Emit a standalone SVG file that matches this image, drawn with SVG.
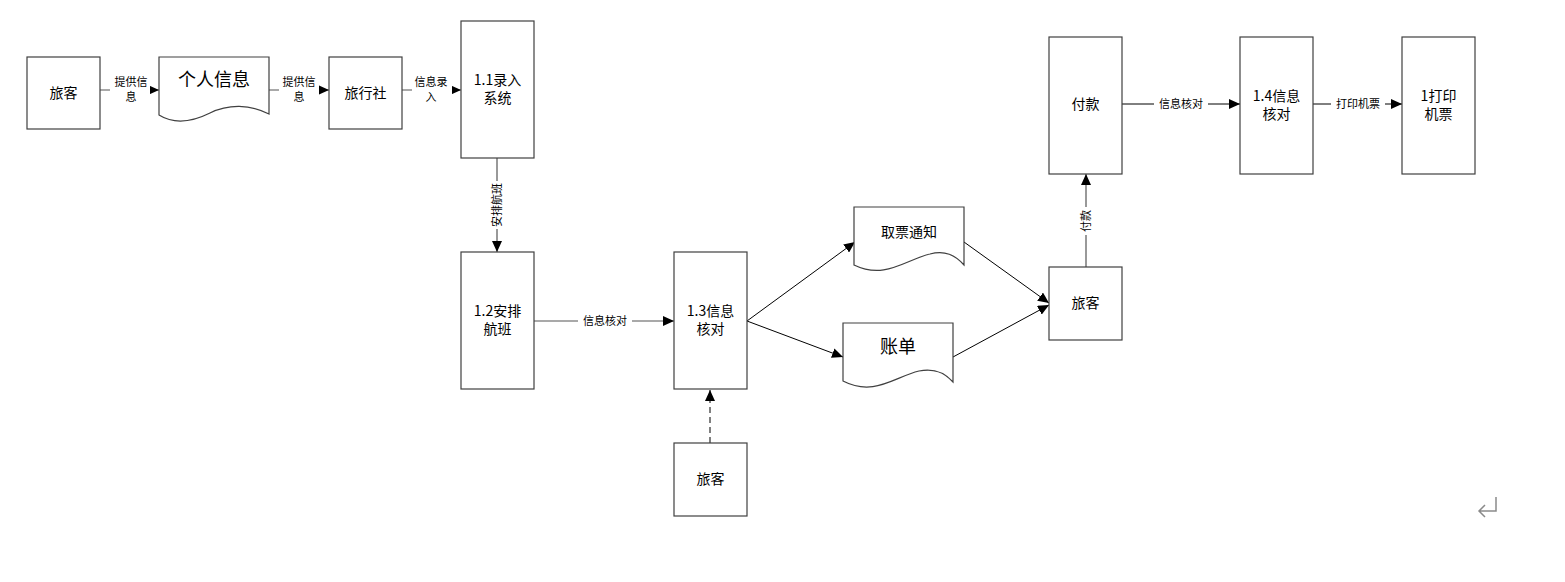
<svg xmlns="http://www.w3.org/2000/svg" width="1565" height="582" viewBox="0 0 1565 582">
<defs>
<marker id="arr" markerUnits="userSpaceOnUse" markerWidth="12" markerHeight="10" refX="11" refY="5" orient="auto">
<path d="M0,0 L11,5 L0,10 Z" fill="#000"/>
</marker>
</defs>
<style>
.box{fill:#fff;stroke:#404040;stroke-width:1.2}
.doc{fill:#fff;stroke:#404040;stroke-width:1.2}
.t{font-family:"Noto Sans CJK SC","Liberation Sans",sans-serif;font-size:14px;fill:#000;text-anchor:middle}
.tb{font-family:"Noto Sans CJK SC","Liberation Sans",sans-serif;font-size:18px;fill:#000;text-anchor:middle}
.lb{font-family:"Noto Sans CJK SC","Liberation Sans",sans-serif;font-size:11px;fill:#000;text-anchor:middle}
.c{fill:none;stroke:#555;stroke-width:1.2}
.ck{fill:none;stroke:#000;stroke-width:1}
.bg{fill:#fff}
</style>
<rect width="1565" height="582" fill="#fff"/>
<g id="connectors">
<line class="c" x1="100" y1="90" x2="159" y2="90" marker-end="url(#arr)"/>
<rect class="bg" x="110" y="74" width="40" height="30"/>
<text class="lb" x="131" y="86">提供信</text><text class="lb" x="131" y="101">息</text>
<line class="c" x1="269" y1="90" x2="329" y2="90" marker-end="url(#arr)"/>
<rect class="bg" x="279" y="74" width="40" height="30"/>
<text class="lb" x="299" y="86">提供信</text><text class="lb" x="299" y="101">息</text>
<line class="c" x1="402" y1="90" x2="461" y2="90" marker-end="url(#arr)"/>
<rect class="bg" x="412" y="74" width="40" height="30"/>
<text class="lb" x="431" y="86">信息录</text><text class="lb" x="431" y="101">入</text>
<line class="c" x1="497" y1="158" x2="497" y2="252" marker-end="url(#arr)"/>
<rect class="bg" x="490" y="181" width="14" height="48"/>
<text class="lb" transform="translate(501,205) rotate(-90)">安排航班</text>
<line class="c" x1="534" y1="321" x2="674" y2="321" marker-end="url(#arr)"/>
<rect class="bg" x="578" y="313" width="54" height="15"/>
<text class="lb" x="605" y="325">信息核对</text>
<line class="ck" x1="710" y1="443" x2="710" y2="390" stroke-dasharray="6,4" marker-end="url(#arr)"/>
<line class="ck" x1="747" y1="321" x2="855" y2="242" marker-end="url(#arr)"/>
<line class="ck" x1="747" y1="321" x2="843" y2="357" marker-end="url(#arr)"/>
<line class="ck" x1="964" y1="242" x2="1049" y2="303" marker-end="url(#arr)"/>
<line class="ck" x1="953" y1="357" x2="1049" y2="305" marker-end="url(#arr)"/>
<line class="c" x1="1086" y1="267" x2="1086" y2="174" marker-end="url(#arr)"/>
<rect class="bg" x="1079" y="207" width="14" height="28"/>
<text class="lb" transform="translate(1090,221) rotate(-90)">付款</text>
<line class="ck" x1="1122" y1="104" x2="1240" y2="104" marker-end="url(#arr)"/>
<rect class="bg" x="1154" y="96" width="54" height="15"/>
<text class="lb" x="1181" y="108">信息核对</text>
<line class="ck" x1="1313" y1="104" x2="1402" y2="104" marker-end="url(#arr)"/>
<rect class="bg" x="1331" y="96" width="54" height="15"/>
<text class="lb" x="1358" y="108">打印机票</text>
</g>
<g id="n_lvke1"><rect class="box" x="27" y="57" width="73" height="72"/><text class="t" x="63.5" y="98">旅客</text></g>
<g id="n_geren"><path class="doc" d="M159,57 H269 V114 C250,104 228,104 210,113 C192,122 175,125 159,115 Z"/><text class="tb" x="214" y="86">个人信息</text></g>
<g id="n_lxs"><rect class="box" x="329" y="57" width="73" height="72"/><text class="t" x="365.5" y="98">旅行社</text></g>
<g id="n_11"><rect class="box" x="461" y="21" width="73" height="137"/><text class="t" x="497.5" y="85">1.1录入</text><text class="t" x="497.5" y="103">系统</text></g>
<g id="n_12"><rect class="box" x="461" y="252" width="73" height="137"/><text class="t" x="497.5" y="316">1.2安排</text><text class="t" x="497.5" y="334">航班</text></g>
<g id="n_13"><rect class="box" x="674" y="252" width="73" height="137"/><text class="t" x="710.5" y="316">1.3信息</text><text class="t" x="710.5" y="334">核对</text></g>
<g id="n_lvke2"><rect class="box" x="674" y="443" width="73" height="73"/><text class="t" x="710.5" y="484">旅客</text></g>
<g id="n_qupiao"><path class="doc" d="M854,207 H964 V265 C955,255 945,250 930,254 C905,260 885,280 854,265 Z"/><text class="t" x="909" y="237">取票通知</text></g>
<g id="n_zhangdan"><path class="doc" d="M843,323 H953 V382 C944,372 934,368 919,371 C894,377 874,397 843,381 Z"/><text class="tb" x="898" y="353">账单</text></g>
<g id="n_lvke3"><rect class="box" x="1049" y="267" width="73" height="73"/><text class="t" x="1085.5" y="308">旅客</text></g>
<g id="n_fukuan"><rect class="box" x="1049" y="37" width="73" height="137"/><text class="t" x="1085.5" y="109">付款</text></g>
<g id="n_14"><rect class="box" x="1240" y="37" width="73" height="137"/><text class="t" x="1276.5" y="101">1.4信息</text><text class="t" x="1276.5" y="119">核对</text></g>
<g id="n_print"><rect class="box" x="1402" y="37" width="73" height="137"/><text class="t" x="1438.5" y="101">1打印</text><text class="t" x="1438.5" y="119">机票</text></g>
<path d="M1496,497 V511 H1479 M1485,505 L1479,511 L1485,517" fill="none" stroke="#8a8a8a" stroke-width="1.5"/>
</svg>
